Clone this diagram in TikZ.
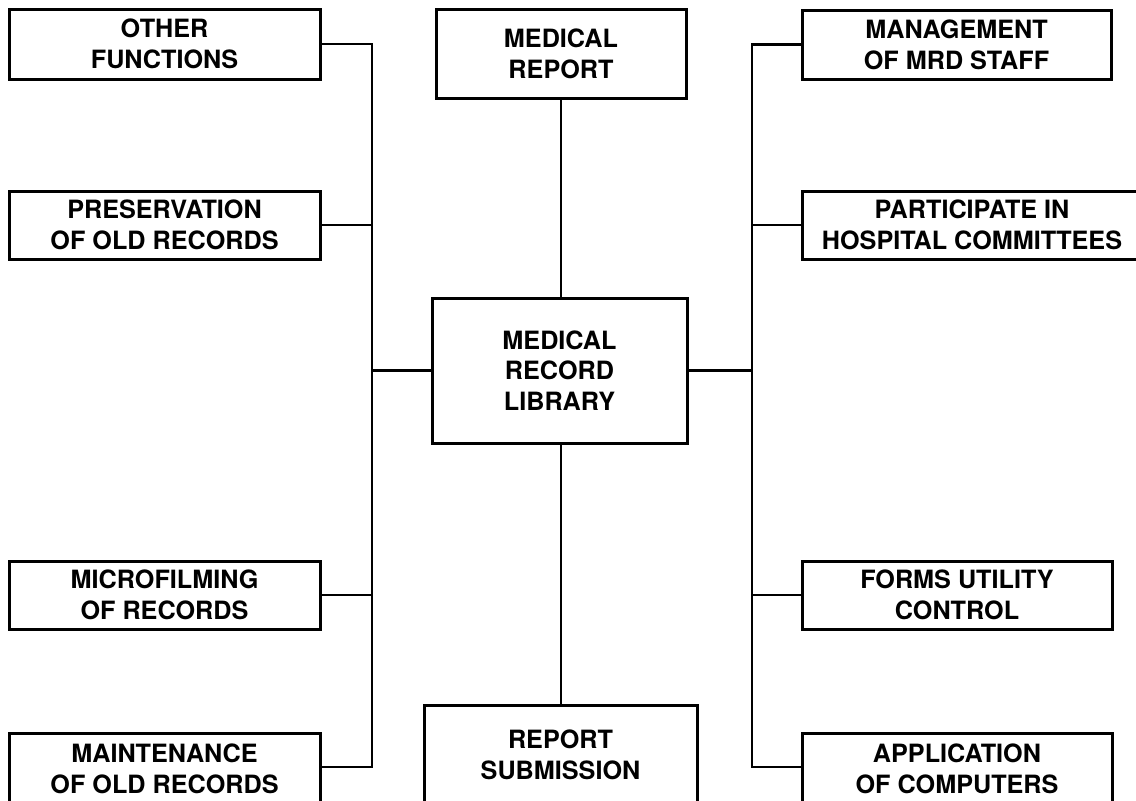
\documentclass[tikz,border=0pt]{standalone}
\usepackage{fontspec}
\setmainfont{TeX Gyre Heros}
\begin{document}
\begin{tikzpicture}[x=0.5pt, y=-0.5pt,
  every node/.style={font=\bfseries\fontsize{12.6}{15.4}\selectfont},
  box/.style 2 args={draw, line width=1.5pt, inner sep=0pt, align=center,
    minimum width=#1*0.5pt, minimum height=#2*0.5pt},
  link/.style={line width=1.4pt}]
\useasboundingbox (0,0) rectangle (1136,800);

% left-hand functions
\node[box={311}{70}] (other) at (164.5,44)  {OTHER\\FUNCTIONS};
\node[box={311}{68}] (pres)  at (164.5,225) {PRESERVATION\\OF OLD RECORDS};
\node[box={311}{68}] (micro) at (164.5,595) {MICROFILMING\\OF RECORDS};
\node[box={311}{72}] (maint) at (164.5,769) {MAINTENANCE\\OF OLD RECORDS};

% centre column
\node[box={250}{89}]  (medrep) at (561,53.5)  {MEDICAL\\REPORT};
\node[box={255}{145}] (lib)    at (559.5,370.5) {MEDICAL\\RECORD\\LIBRARY};
\node[box={273}{99}]  (subm)   at (560.5,754.5) {REPORT\\SUBMISSION};

% right-hand functions
\node[box={309}{69}] (mgmt)  at (956.5,44.5) {MANAGEMENT\\OF MRD STAFF};
\node[box={340}{68}] (part)  at (972,225)    {PARTICIPATE IN\\HOSPITAL COMMITTEES};
\node[box={310}{68}] (forms) at (957,595)    {FORMS UTILITY\\CONTROL};
\node[box={310}{72}] (appl)  at (957,769)    {APPLICATION\\OF COMPUTERS};

% bus lines
\coordinate (lbus) at (372,0);
\coordinate (rbus) at (752,0);
\coordinate (lend) at (372,767);
\coordinate (rend) at (752,767);

\draw[link] (other.east) -- (other.east -| lbus) -- (lend) -- (lend -| maint.east);
\draw[link] (pres.east)  -- (pres.east -| lbus);
\draw[link] (micro.east) -- (micro.east -| lbus);
\draw[link] (lib.west)   -- (lib.west -| lbus);

\draw[link] (mgmt.west) -- (mgmt.west -| rbus) -- (rend) -- (rend -| appl.west);
\draw[link] (part.west)  -- (part.west -| rbus);
\draw[link] (forms.west) -- (forms.west -| rbus);
\draw[link] (lib.east)   -- (lib.east -| rbus);

\draw[link] (medrep.south) -- (medrep.south |- lib.north);
\draw[link] (subm.north -| medrep.south) -- (lib.south -| medrep.south);
\end{tikzpicture}
\end{document}
